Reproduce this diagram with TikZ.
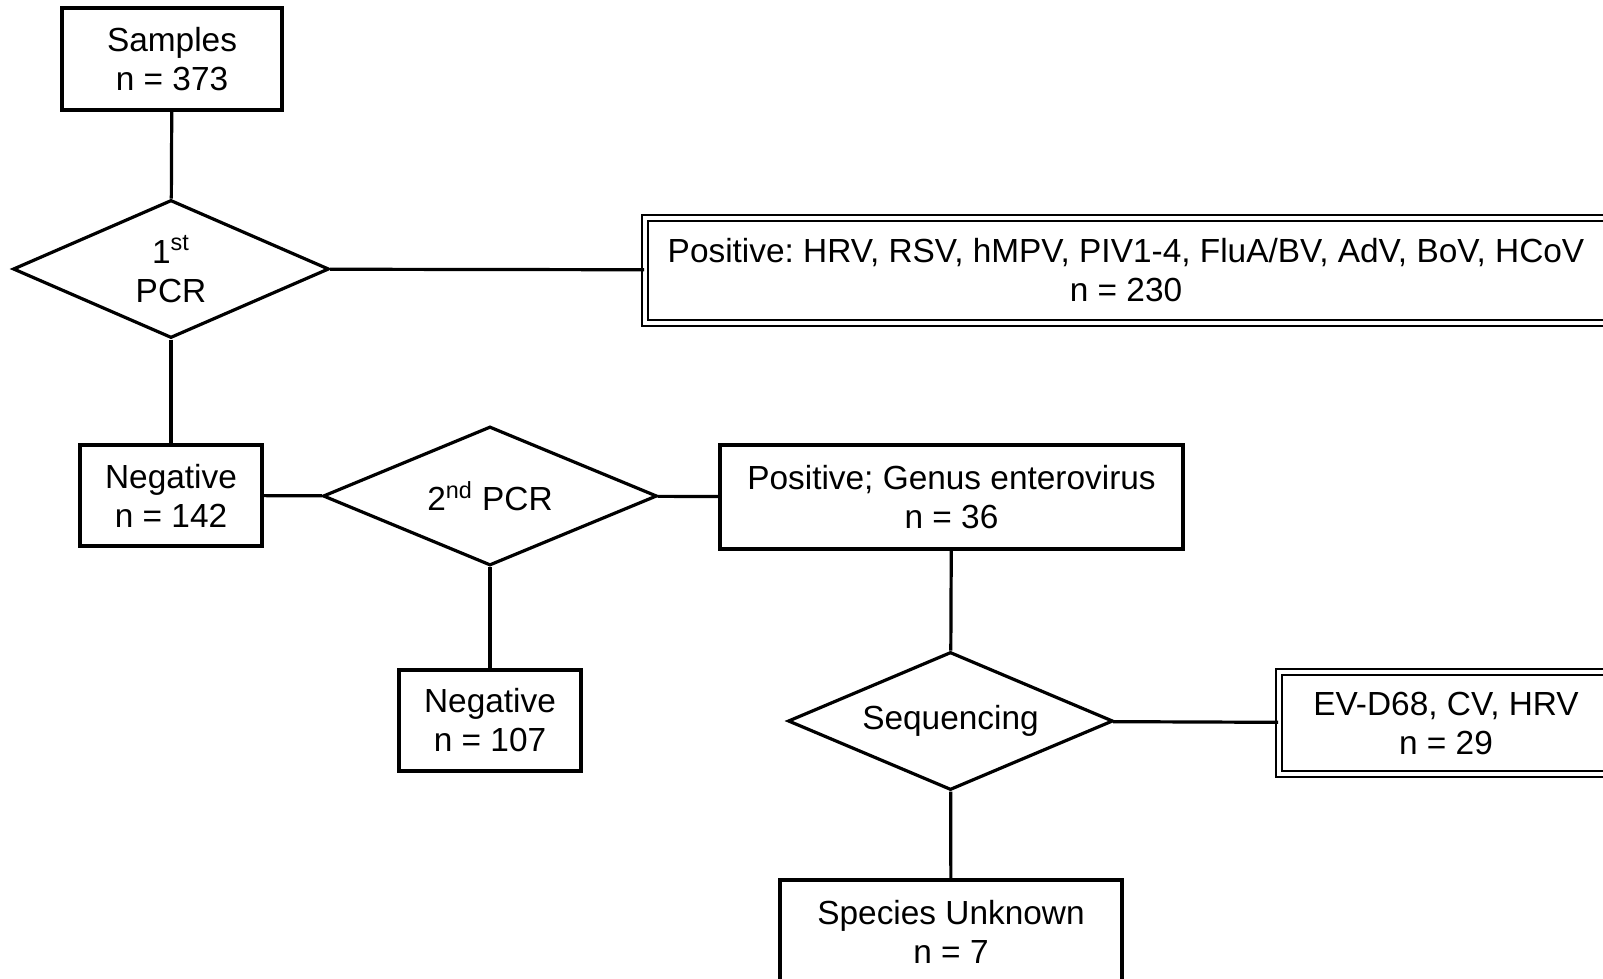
\documentclass[tikz,border=0pt]{standalone}
\usepackage{fontspec}
\setmainfont{Liberation Sans}
\usetikzlibrary{shapes.geometric}
\frenchspacing
\begin{document}
\begin{tikzpicture}[x=0.5pt,y=-0.5pt,line width=1.6pt,
    font=\fontsize{16.7}{19.5}\selectfont,
    box/.style={draw,align=center,inner sep=0pt},
    dbox/.style={draw,double,line width=0.9pt,double distance=1.9pt,align=center,inner sep=0pt},
    test/.style={draw,diamond,aspect=2.3,align=center,inner sep=0pt}]
        \clip(0,0)rectangle(1603,979);
        \fill[white](0,0)rectangle(1603,979);

        \node[box,minimum width=110pt,minimum height=51pt](samples)at(172,59){Samples\\n = 373};
        \node[test,minimum width=158pt,minimum height=69pt](pcra)at(171,269){1\textsuperscript{st}\\PCR};
        \node[dbox,minimum width=481pt,minimum height=52.5pt](posa)at(1126,270.5){Positive: HRV, RSV, hMPV, PIV1-4, FluA/BV, AdV, BoV, HCoV\\n = 230};
        \node[box,minimum width=91pt,minimum height=50.5pt](nega)at(171,495.5){Negative\\n = 142};
        \node[test,minimum width=167pt,minimum height=69.5pt](pcrb)at(490,496){2\textsuperscript{nd} PCR};
        \node[box,minimum width=231.5pt,minimum height=52pt](posb)at(951.5,497){Positive; Genus enterovirus\\n = 36};
        \node[box,minimum width=91pt,minimum height=50.5pt](negb)at(490,720.5){Negative\\n = 107};
        \node[test,minimum width=162.5pt,minimum height=69pt](seq)at(950.5,721){Sequencing};
        \node[dbox,minimum width=167pt,minimum height=51pt](ev)at(1446,723){EV-D68, CV, HRV\\n = 29};
        \node[box,minimum width=171pt,minimum height=52pt](unk)at(951,932){Species Unknown\\n = 7};

        \draw(samples)--(pcra);
        \draw(pcra)--(posa);
        \draw(pcra)--(nega);
        \draw(nega)--(pcrb);
        \draw(pcrb)--(posb);
        \draw(pcrb)--(negb);
        \draw(posb)--(seq);
        \draw(seq)--(ev);
        \draw(seq)--(unk);
    \end{tikzpicture}
\end{document}
